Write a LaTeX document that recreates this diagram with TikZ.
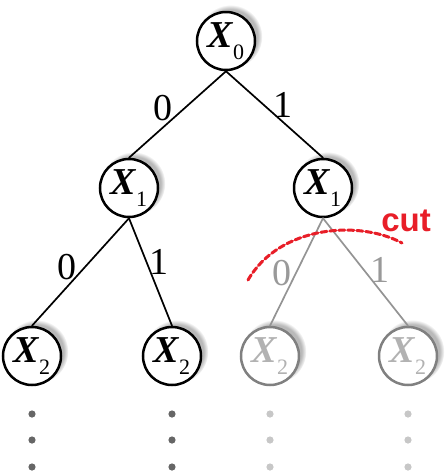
\documentclass[tikz,border=0pt]{standalone}
\usepackage{fontspec}
\setmainfont{Liberation Serif}
\newfontfamily\cutfont{Liberation Sans}
\usetikzlibrary{shadows}
\definecolor{cutred}{RGB}{232,30,40}
\newcommand{\rv}[1]{\textbf{\textit{X}}\kern-1pt\raisebox{-0.3em}{\fontsize{22}{22}\selectfont #1}}

\begin{document}
\begin{tikzpicture}[x=1pt,y=-1pt,line cap=round,
  var/.style={circle,draw,line width=2.5pt,fill=white,minimum size=58pt,inner sep=0pt,
    font=\fontsize{38}{38}\selectfont,
    circular drop shadow={shadow xshift=4pt,shadow yshift=4pt,opacity=0.55}},
  pruned/.style={var,draw=black!50,text=black!30},
  edge/.style={line width=1.7pt},
  prunededge/.style={edge,draw=black!42},
  lbl/.style={font=\fontsize{38}{38}\selectfont,inner sep=0pt},
  prunedlbl/.style={lbl,text=black!40}]
\useasboundingbox (0,0) rectangle (446,472);
\node[var] (x0) at (226,41) {\rv{0}};
\node[var] (x1a) at (129,188) {\rv{1}};
\node[var] (x1b) at (323,188) {\rv{1}};
\node[var] (x2a) at (32,356) {\rv{2}};
\node[var] (x2b) at (172,356) {\rv{2}};
\node[pruned] (x2c) at (270,356) {\rv{2}};
\node[pruned] (x2d) at (408,356) {\rv{2}};
\draw[edge] (x0.south) -- node[lbl,xshift=-14.5pt,yshift=6.5pt] {0} (x1a.north);
\draw[edge] (x0.south) -- node[lbl,xshift=8.5pt,yshift=9.5pt] {1} (x1b.north);
\draw[edge] (x1a.south) -- node[lbl,xshift=-13.5pt,yshift=5pt] {0} (x2a.north);
\draw[edge] (x1a.south) -- node[lbl,xshift=8.5pt,yshift=10pt] {1} (x2b.north);
\draw[prunededge] (x1b.south) -- node[prunedlbl,xshift=-14.5pt,yshift=-1pt] {0} (x2c.north);
\draw[prunededge] (x1b.south) -- node[prunedlbl,xshift=14.5pt,yshift=2pt] {1} (x2d.north);
\draw[cutred,line width=3pt,dash pattern=on 6pt off 3pt] (248,280) .. controls (280,225) and (360,220) .. (402,243);
\node[text=cutred,font=\cutfont\bfseries\fontsize{33}{33}\selectfont] (cut) at (406,221) {cut};
\foreach \x/\c in {32/black!60,172/black!60,270/black!22,408/black!22}
  \foreach \y in {414,440,467}
    \fill[\c] (\x,\y) circle (3.6pt);
\end{tikzpicture}
\end{document}
